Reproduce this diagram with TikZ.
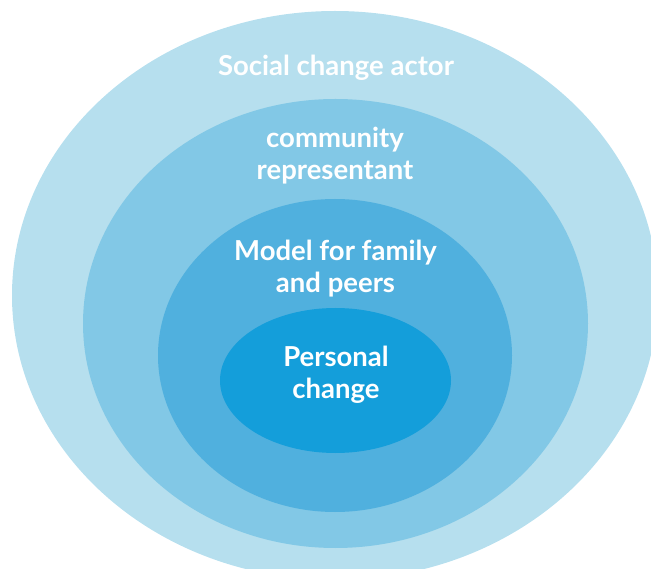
\documentclass[tikz,border=0pt]{standalone}
\usepackage{fontspec}
\setmainfont{Lato}
\usepackage{xcolor}
\definecolor{ringOne}{RGB}{182,223,238}
\definecolor{ringTwo}{RGB}{130,200,230}
\definecolor{ringThree}{RGB}{80,176,222}
\definecolor{ringCore}{RGB}{20,158,218}
\usepackage{tikz}
\usetikzlibrary{shapes}
\usetikzlibrary{positioning}
\tikzstyle{ring} = [ellipse, draw=none, inner sep=0pt, outer sep=0pt]
\tikzstyle{ringText} = [text=white, align=center, inner sep=0pt,
        font={\fontsize{27.5}{32}\selectfont\bfseries}]

\begin{document}
\begin{tikzpicture}[x=1pt, y=-1pt]
            \useasboundingbox (0,0) rectangle (651,569);
            \clip (0,0) rectangle (651,569);
            % rings, outermost first
            \node [ring, fill=ringOne, minimum width=646pt, minimum height=569pt] (actor) at (335,295.5) {};
            \node [ring, fill=ringTwo, minimum width=505pt, minimum height=449pt] (community) at (335.5,323.5) {};
            \node [ring, fill=ringThree, minimum width=354pt, minimum height=313pt] (model) at (335,355.5) {};
            \node [ring, fill=ringCore, minimum width=231pt, minimum height=145pt] (personal) at (335.5,380.5) {};
            % labels
            \node [ringText] (actorText) at (336,68) {Social change actor};
            \node [ringText] (communityText) at (335,155.5) {community\\representant};
            \node [ringText] (modelText) at (335.5,268.5) {Model for family\\and peers};
            \node [ringText] (personalText) at (336,374.5) {Personal\\change};
        \end{tikzpicture}
\end{document}
